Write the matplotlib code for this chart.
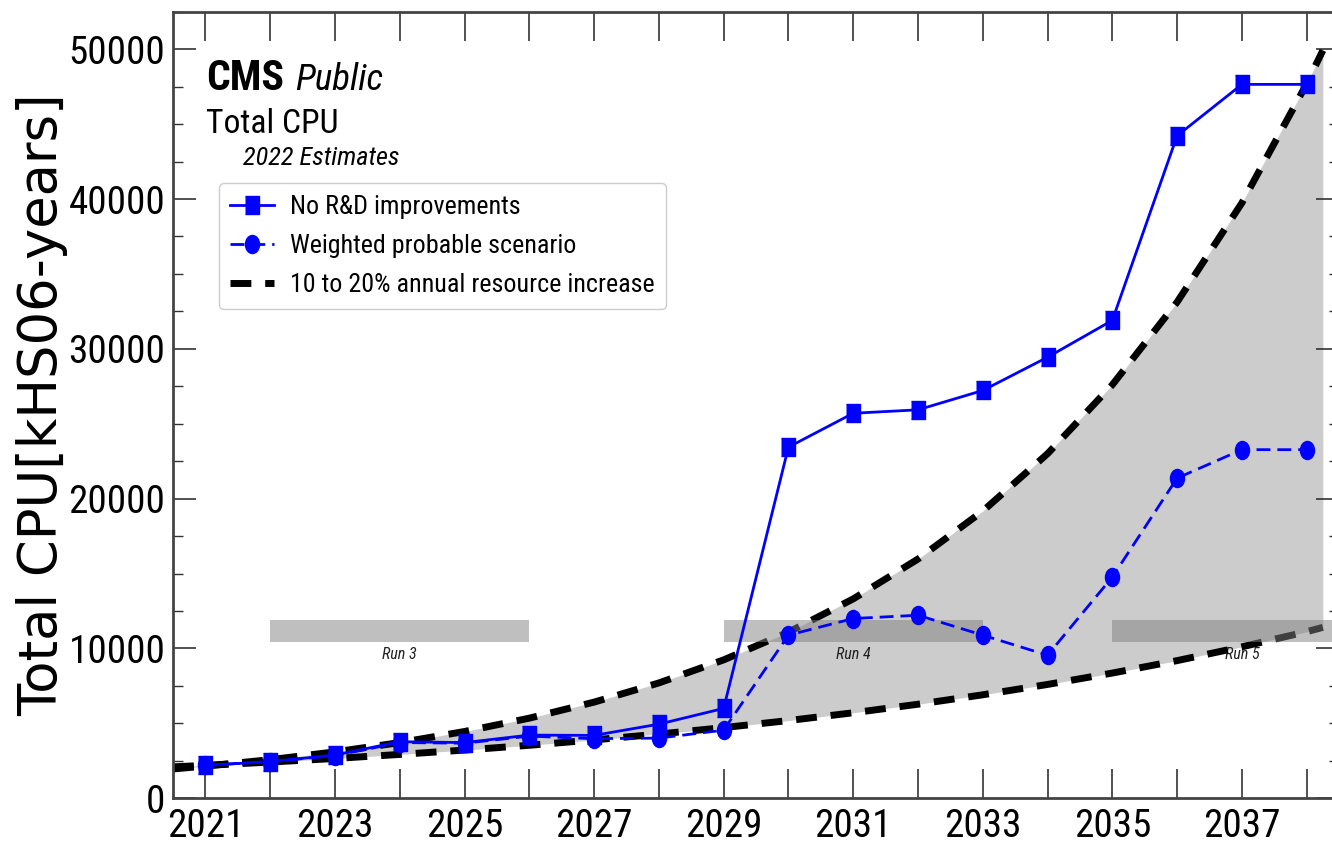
import matplotlib
matplotlib.use('Agg')
import matplotlib.pyplot as plt
from matplotlib import font_manager
from matplotlib.path import Path
from matplotlib.transforms import Affine2D
from matplotlib.ticker import MultipleLocator

# yearly CPU needs in kHS06-years
years = list(range(2021, 2039))
no_rnd = [2200, 2450, 2890, 3780, 3720, 4220, 4200, 4950, 6000,
          23440, 25700, 25930, 27220, 29440, 31900, 44220, 47650, 47650]
weighted = [2200, 2450, 2850, 3720, 3680, 4150, 3980, 4020, 4550,
            10890, 12000, 12220, 10890, 9550, 14770, 21370, 23270, 23270]

# flat-budget envelope: +10% / +20% per year
env_years = [2020.5] + years + [2038.25]
env_low = [2100, 2200, 2420, 2660, 2930, 3220, 3540, 3900, 4290, 4720,
           5190, 5710, 6280, 6910, 7600, 8360, 9190, 10110, 11120, 11410]
env_high = [1960, 2150, 2580, 3100, 3720, 4460, 5350, 6420, 7700, 9240,
            11090, 13310, 15970, 19170, 23000, 27600, 33120, 39740, 47690, 49920]

# LHC run periods
run_names = ['Run 3', 'Run 4', 'Run 5']
run_start = [2022, 2029, 2035]
run_end = [2026, 2033, 2039]
run_lo, run_hi = 10400, 11900

xtick_labels = [str(y) if y % 2 else '' for y in years]

# pick a narrow sans if one is around, else shrink DejaVu
fonts = [(f.name, str(f.stretch)) for f in font_manager.fontManager.ttflist]
names = {n for n, _ in fonts}
cond = ('condensed', 'semi-condensed', 'extra-condensed', '75', '87.5', '62.5')
if 'Liberation Sans Narrow' in names:
    family, stretch, k = 'Liberation Sans Narrow', 'normal', 1.0
elif 'Roboto Condensed' in names:
    family, stretch, k = 'Roboto Condensed', 'normal', 0.97
elif any(n == 'Noto Sans' and s in cond for n, s in fonts):
    family, stretch, k = 'Noto Sans', 'condensed', 0.92
elif any(n == 'DejaVu Sans' and s in cond for n, s in fonts):
    family, stretch, k = 'DejaVu Sans', 'condensed', 0.88
else:
    family, stretch, k = 'DejaVu Sans', 'normal', 0.78
plt.rcParams['font.family'] = [family, 'DejaVu Sans']
plt.rcParams['font.stretch'] = stretch

# slightly tall markers
sq_marker = [(-0.83, -1), (0.83, -1), (0.83, 1), (-0.83, 1)]
dot_marker = Path.unit_circle().transformed(Affine2D().scale(0.78, 1.0))

fig = plt.figure(figsize=(13.32, 8.43), dpi=100)
ax = fig.add_axes([0.1299, 0.0530, 0.8754, 0.9331])

ax.fill_between(env_years, env_low, env_high, color='#cccccc', lw=0, zorder=1)
ax.plot(env_years, env_low, color='black', lw=5, dashes=(3.0, 2.0), zorder=2,
        label='10 to 20% annual resource increase')
ax.plot(env_years, env_high, color='black', lw=5, dashes=(3.0, 2.0), zorder=2)

for name, a, b in zip(run_names, run_start, run_end):
    ax.barh((run_lo + run_hi) / 2, b - a, left=a, height=run_hi - run_lo,
            color='gray', alpha=0.5, lw=0, zorder=3)
    ax.text((a + b) / 2, run_lo - 300, name, ha='center', va='top',
            style='italic', fontsize=12 * k, color='#222222', zorder=1.5)

ax.plot(years, weighted, color='blue', lw=2, dashes=(5, 2.5), marker=dot_marker,
        ms=13, zorder=4, label='Weighted probable scenario')
ax.plot(years, no_rnd, color='blue', lw=2, marker=sq_marker, ms=13, zorder=5,
        label='No R&D improvements')

ax.set_xlim(2020.5, 2038.5)
ax.set_ylim(0, 52500)
ax.set_xticks(years)
ax.set_xticklabels(xtick_labels)
ax.yaxis.set_major_locator(MultipleLocator(10000))
ax.yaxis.set_minor_locator(MultipleLocator(2500))
ax.tick_params(axis='both', which='both', direction='in', top=True, right=True,
               color='#333333')
ax.tick_params(axis='x', which='major', length=21, width=1.2, labelsize=29 * k, pad=7)
ax.tick_params(axis='y', which='major', length=16.5, width=1.2, labelsize=29 * k, pad=5.5)
ax.tick_params(axis='y', which='minor', length=7.5, width=1.0)
for sp in ax.spines.values():
    sp.set_color('#444444')
    sp.set_linewidth(2)

ax.set_ylabel('Total CPU[kHS06-years]', fontsize=38, family='DejaVu Sans',
              fontstretch='normal')
ax.yaxis.set_label_coords(-0.090, 0.5)

ax.text(0.0283, 0.9005, 'CMS', transform=ax.transAxes, fontsize=31 * k,
        fontweight='bold', va='baseline')
ax.text(0.1046, 0.9005, 'Public', transform=ax.transAxes, fontsize=27.5 * k,
        style='italic', va='baseline')
ax.text(0.0283, 0.8458, 'Total CPU', transform=ax.transAxes, fontsize=25 * k,
        va='baseline')
ax.text(0.060, 0.8051, '2022 Estimates', transform=ax.transAxes, fontsize=19.5 * k,
        style='italic', va='baseline')

handles, labels = ax.get_legend_handles_labels()
order = [2, 1, 0]
leg = ax.legend([handles[i] for i in order], [labels[i] for i in order],
                loc='upper left', bbox_to_anchor=(0.039, 0.782), borderaxespad=0,
                fontsize=19.3 * k, handlelength=1.7, handletextpad=0.6,
                labelspacing=0.58, borderpad=0.45,
                fancybox=True, edgecolor='#cccccc', framealpha=1)
leg.get_frame().set_linewidth(1)

fig.savefig('out.png', dpi=100)
